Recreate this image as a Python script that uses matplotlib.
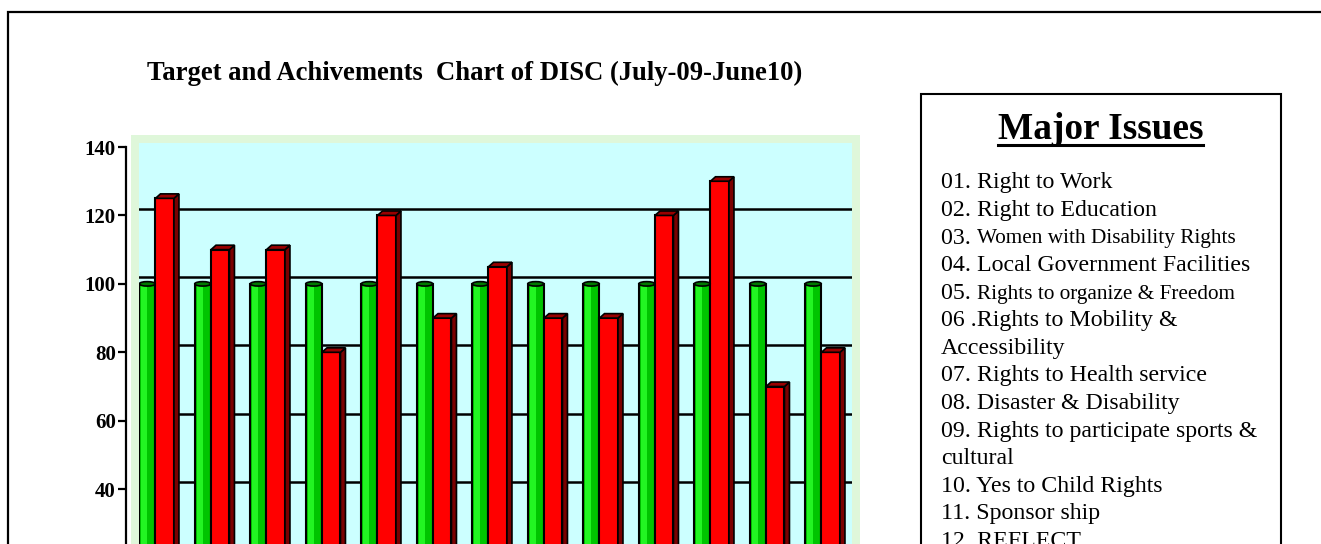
import matplotlib.pyplot as plt
import numpy as np
from matplotlib.patches import Rectangle, Polygon, Ellipse
from matplotlib.lines import Line2D
import matplotlib.ticker as ticker

plt.rcParams['font.family'] = ['Liberation Serif', 'DejaVu Serif']

title = 'Target and Achivements  Chart of DISC (July-09-June10)'
issues = ['01. Right to Work', '02. Right to Education', '03. Women with Disability Rights',
          '04. Local Government Facilities', '05. Rights to organize & Freedom',
          '06 .Rights to Mobility &\nAccessibility', '07. Rights to Health service',
          '08. Disaster & Disability', '09. Rights to participate sports &\ncultural',
          '10. Yes to Child Rights', '11. Sponsor ship', '12. REFLECT']
small_rest = {2, 4}   # items whose text after the number is set smaller
target = [100, 100, 100, 100, 100, 100, 100, 100, 100, 100, 100, 100, 100]
achieved = [125, 110, 110, 80, 120, 90, 105, 90, 90, 120, 130, 70, 80]

W, H = 1321, 544
fig = plt.figure(figsize=(W / 100, H / 100), dpi=100)

def fx(px):
    return px / W

def fy(py):
    return 1 - py / H

# outer frame (runs off right and bottom)
fig.patches.append(Rectangle((fx(8), -0.5), 2, fy(12) + 0.5, transform=fig.transFigure,
                             fill=False, ec='black', lw=1.6, zorder=-2))
# light green chart area border
fig.patches.append(Rectangle((fx(131), -0.5), fx(860) - fx(131), fy(135) + 0.5,
                             transform=fig.transFigure, fc='#dff7da', ec='none', zorder=-1))

fig.text(fx(147), fy(79.5), title, fontsize=19.2, fontweight='bold', va='baseline')

# axes: value 140 at y=147px, 0 at 626px
ppu = (626 - 147) / 140
ax = fig.add_axes([fx(139), fy(626), fx(852) - fx(139), (626 - 143) / H])
ax.set_facecolor('#ccffff')
ax.set_ylim(0, 140 + 4 / ppu)
ax.set_xlim(0, 713 / 55.5)

for s in ['top', 'right', 'bottom']:
    ax.spines[s].set_visible(False)
ax.spines['left'].set_position(('outward', 9.4))
ax.spines['left'].set_bounds(0, 140)
ax.spines['left'].set_linewidth(1.6)
ax.yaxis.set_major_locator(ticker.MultipleLocator(20))
ax.set_xticks([])
ax.tick_params(axis='y', length=5.8, width=1.6, labelsize=15, pad=1.5)
for lbl in ax.get_yticklabels():
    lbl.set_fontweight('bold')

# back wall gridlines sit a little above the ticks
for v in range(20, 140, 20):
    ax.axhline(v + 2.0, color='black', lw=1.8, zorder=1)

x = np.arange(len(target))
gl, gw = x + 0.005, 0.288
rl, rw = x + 0.297, 0.333
d, dz = 0.09, 1.3

ax.bar(gl, target, width=gw, align='edge', color='#00c400', edgecolor='black', lw=1.5, zorder=3)
ax.bar(gl + gw * 0.12, target, width=gw * 0.38, align='edge', color='#22f522', lw=0, zorder=3.5)
for xi, t in zip(gl, target):
    ax.add_patch(Ellipse((xi + gw / 2, t), gw, 1.3, fc='#007a00', ec='black', lw=1.2, zorder=4))

ax.bar(rl, achieved, width=rw, align='edge', color='#ff0000', edgecolor='black', lw=1.5, zorder=3)
for xi, v in zip(rl, achieved):
    ax.add_patch(Polygon([(xi + rw, 0), (xi + rw, v), (xi + rw + d, v + dz), (xi + rw + d, dz)],
                         closed=True, fc='#7a0000', ec='black', lw=1.2, zorder=3))
    ax.add_patch(Polygon([(xi, v), (xi + rw, v), (xi + rw + d, v + dz), (xi + d, v + dz)],
                         closed=True, fc='#990000', ec='black', lw=1.2, zorder=3))

# Major Issues box
fig.patches.append(Rectangle((fx(921), -0.5), fx(1281) - fx(921), fy(94) + 0.5,
                             transform=fig.transFigure, fill=False, ec='black', lw=1.5))
head = fig.text(fx(1100.3), fy(139.3), 'Major Issues', fontsize=26.8, fontweight='bold',
                ha='center', va='baseline')
fig.canvas.draw()
bb = head.get_window_extent()
fig.lines.append(Line2D([bb.x0 / W, bb.x1 / W], [fy(145), fy(145)], transform=fig.transFigure,
                        color='black', lw=2.2))

row = 0
for i, item in enumerate(issues):
    for j, line in enumerate(item.split('\n')):
        y = fy(188.3 + 27.6 * row)
        if i in small_rest and j == 0:
            fig.text(fx(941), y, line[:4], fontsize=17.2, va='baseline')
            fig.text(fx(977), y, line[4:], fontsize=15.3, va='baseline')
        else:
            fig.text(fx(941), y, line, fontsize=17.2, va='baseline')
        row += 1

fig.savefig('out.png', dpi=100)
